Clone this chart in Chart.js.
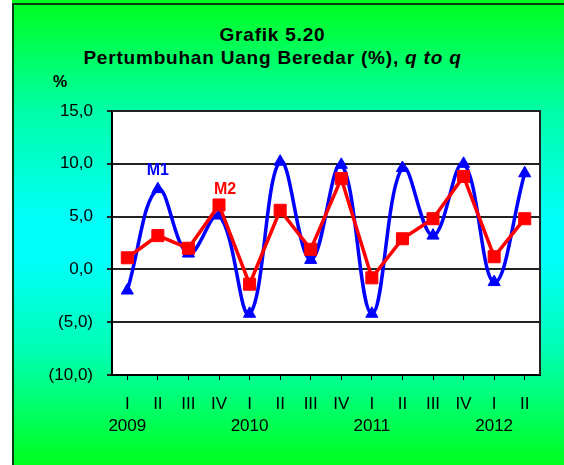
<!DOCTYPE html>
<html>
<head>
<meta charset="utf-8">
<script src="https://cdn.jsdelivr.net/npm/chart.js@4"></script>
<style>
  html, body { margin: 0; padding: 0; }
  body { width: 564px; height: 465px; position: relative; overflow: hidden; background: #fff;
    font-family: "Liberation Sans", Arial, sans-serif; }
  #bg { position: absolute; left: 12px; top: 0; width: 552px; height: 465px;
    background: linear-gradient(to bottom, #00ff1c 0%, #00ffa8 24%, #00fff6 46%, #00fffa 56%, #00ffb0 76%, #00ff1c 100%); }
  #edgeTop { position: absolute; left: 12px; top: 3px; width: 552px; height: 2px; background: #0b3d12; }
  #edgeLeft { position: absolute; left: 12px; top: 3px; width: 2px; height: 462px; background: #0b3d12; }
  #title { position: absolute; left: 0; top: 23px; width: 545px; text-align: center;
    font-size: 19px; font-weight: bold; line-height: 23px; letter-spacing: 0.8px; color: #000; }
  #unit { position: absolute; left: 53px; top: 74px; font-size: 16px; font-weight: bold; line-height: 16px; }
  canvas { position: absolute; left: 0; top: 0; }
</style>
</head>
<body>
<div id="bg"></div>
<div id="edgeTop"></div>
<div id="edgeLeft"></div>
<div id="title">Grafik 5.20<br>Pertumbuhan Uang Beredar (%), <i>q to q</i></div>
<div id="unit">%</div>
<canvas id="chart" width="564" height="465"></canvas>
<script>
// quarters 2009 Q1 .. 2012 Q2
const quarters = [['I', '2009'], 'II', 'III', 'IV', ['I', '2010'], 'II', 'III', 'IV',
                  ['I', '2011'], 'II', 'III', 'IV', ['I', '2012'], 'II'];
const m1 = [-2.0, 7.6, 1.5, 5.1, -4.2, 10.2, 0.9, 9.9, -4.2, 9.6, 3.2, 10.0, -1.2, 9.1];
const m2 = [1.1, 3.2, 2.0, 6.1, -1.4, 5.6, 1.9, 8.6, -0.8, 2.9, 4.8, 8.8, 1.2, 4.8];
const yMin = -10, yMax = 15, yStep = 5;

const fmt = v => {
  const s = Math.abs(v).toFixed(1).replace('.', ',');
  return v < 0 ? '(' + s + ')' : s;
};

const plotDeco = {
  id: 'plotDeco',
  beforeDraw(c) {
    const a = c.chartArea, ctx = c.ctx;
    ctx.save();
    ctx.fillStyle = '#fff';
    ctx.fillRect(a.left, a.top, a.right - a.left, a.bottom - a.top);
    ctx.restore();
  },
  afterDraw(c) {
    const a = c.chartArea, ctx = c.ctx;
    const x = c.scales.x, y = c.scales.y;
    ctx.save();
    ctx.strokeStyle = '#222';
    ctx.lineWidth = 2;
    ctx.beginPath();
    ctx.moveTo(a.left, a.top);
    ctx.lineTo(a.right, a.top);
    ctx.lineTo(a.right, a.bottom);
    ctx.stroke();
    // series names
    ctx.font = 'bold 16px "Liberation Sans", Arial, sans-serif';
    ctx.textAlign = 'center';
    ctx.textBaseline = 'middle';
    ctx.fillStyle = '#0000ff';
    ctx.fillText('M1', x.getPixelForValue(1), y.getPixelForValue(9.4));
    ctx.fillStyle = '#ff0000';
    ctx.fillText('M2', x.getPixelForValue(3.2), y.getPixelForValue(7.6));
    ctx.restore();
  }
};

new Chart(document.getElementById('chart'), {
  type: 'line',
  data: {
    labels: quarters,
    datasets: [
      {
        label: 'M2',
        data: m2,
        order: 0,
        borderColor: '#ff0000',
        backgroundColor: '#ff0000',
        borderWidth: 3.5,
        tension: 0,
        pointStyle: 'rect',
        pointRadius: 8.5,
        pointBorderWidth: 1
      },
      {
        label: 'M1',
        data: m1,
        order: 1,
        borderColor: '#0000ff',
        backgroundColor: '#0000ff',
        borderWidth: 3.5,
        tension: 0.4,
        pointStyle: 'triangle',
        pointRadius: 7,
        pointBorderWidth: 1
      }
    ]
  },
  options: {
    responsive: false,
    animation: false,
    layout: { padding: { top: 111, right: 24, bottom: 0, left: 10 } },
    plugins: {
      legend: { display: false },
      tooltip: { enabled: false },
      title: { display: false }
    },
    scales: {
      x: {
        offset: true,
        grid: { display: true, drawOnChartArea: false, drawTicks: true, tickLength: 5, color: '#000', offset: false },
        border: { display: true, color: '#000', width: 2 },
        ticks: {
          color: '#000', padding: 14, maxRotation: 0, autoSkip: false,
          font: { family: '"Liberation Sans", Arial, sans-serif', size: 17, lineHeight: 1.25 }
        },
        afterFit: s => { s.height = 90; }
      },
      y: {
        min: yMin,
        max: yMax,
        grid: { color: '#222', lineWidth: 2, drawTicks: true, tickLength: 5 },
        border: { display: true, color: '#000', width: 2 },
        ticks: {
          stepSize: yStep, color: '#000', padding: 14,
          font: { family: '"Liberation Sans", Arial, sans-serif', size: 17 },
          callback: v => fmt(v)
        },
        afterFit: s => { s.width = 102; }
      }
    }
  },
  plugins: [plotDeco]
});
</script>
</body>
</html>
